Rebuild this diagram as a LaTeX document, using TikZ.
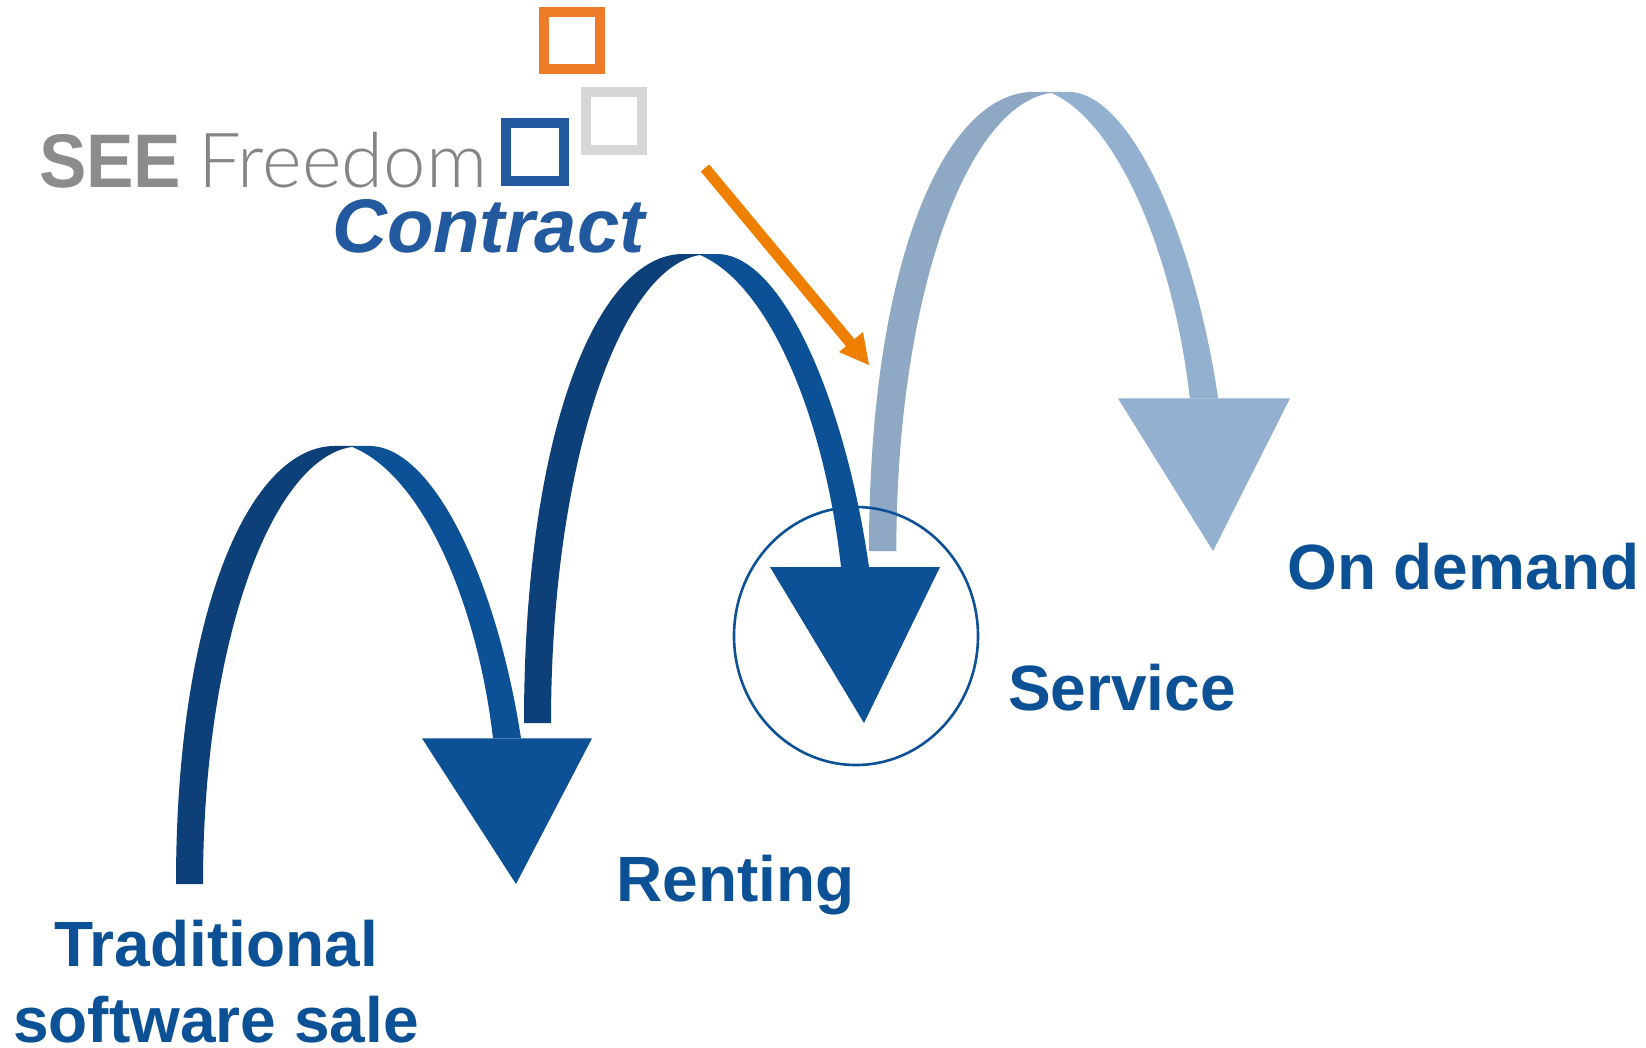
\documentclass[tikz,border=0pt]{standalone}
\usepackage{fontspec}
\usetikzlibrary{shapes.geometric}
\setmainfont{Liberation Sans}
\newfontfamily\lightface{Lato Light}
\definecolor{headblue}{HTML}{0C5195}
\definecolor{shaftdark}{HTML}{0D3F78}
\definecolor{palehead}{HTML}{93B0D1}
\definecolor{paleshaft}{HTML}{8FA8C4}
\definecolor{logoblue}{HTML}{22599F}
\definecolor{logoorange}{HTML}{EE7B27}
\definecolor{logogrey}{HTML}{D6D6D6}
\definecolor{logotext}{HTML}{8C8C8C}
\definecolor{logolight}{HTML}{858585}
\definecolor{pointer}{HTML}{EF7F00}
% foot x, foot y, y-scale, left colour, right colour, x-scale, apex offset
\newcommand{\jumparrow}[7]{%
  \begin{scope}[shift={(#1,#2)},xscale=#6,yscale=#3]
    \fill[#4] (0,0) .. controls (0,-293) and (74,-469) .. ({159+#7},-469)
      -- ({176+#7},-469) -- ({176+#7},-468)
      .. controls (94,-455) and (27,-253) .. (27,0) -- cycle;
    \fill[#5] ({176+#7},-469) -- ({193+#7},-469)
      .. controls (258,-469) and (321,-323) .. (345,-156)
      -- (317,-156) .. controls (301,-303) and (246,-438) .. ({176+#7},-468) -- cycle;
    \fill[#5] (246,-156) -- (416,-156) -- (340,0) -- cycle;
  \end{scope}}
\tikzset{
  x=1pt,y=-1pt,
  lbl/.style={inner sep=0pt,text=headblue,font=\fontsize{64}{73}\selectfont\bfseries},
  logosq/.style={draw=#1,line width=10pt,fill=none,inner sep=0pt},
}
\begin{document}
\begin{tikzpicture}
\useasboundingbox (0,0) rectangle (1646,1047);
\fill[white] (0,0) rectangle (1646,1047);
% pale arrow, then circle, then the dark arrows
\jumparrow{869}{551}{0.979}{paleshaft}{palehead}{1.012}{4}
\node[draw=headblue,line width=2.6pt,ellipse,minimum width=244pt,minimum height=258pt,inner sep=0pt] (ring) at (856,636) {};
\jumparrow{176}{884}{0.934}{shaftdark}{headblue}{1}{0}
\jumparrow{524}{723}{1}{shaftdark}{headblue}{1}{0}
% pointer
\coordinate (ps) at (705,168);
\coordinate (pe) at (853,346);
\coordinate (pt) at (869,365);
\draw[pointer,line width=11pt] (ps) -- (pe);
\fill[pointer] (pt) -- (839,352) -- (863,332) -- cycle;
% logo squares
\node[logosq=logoorange,minimum width=56pt,minimum height=57pt] (sqo) at (572,40.5) {};
\node[logosq=logogrey,minimum width=56pt,minimum height=58pt] (sqg) at (613.5,121) {};
\node[logosq=logoblue,minimum width=58pt,minimum height=58pt] (sqb) at (535,152) {};
% logo text
\node[anchor=base west,inner sep=0pt,text=logotext,font=\fontsize{76}{76}\selectfont\bfseries,xscale=0.935] (see) at (39,187) {SEE};
\node[anchor=base west,inner sep=0pt,text=logolight,font=\fontsize{76}{76}\selectfont\lightface] (free) at (198,187) {Freedom};
\node[anchor=base west,inner sep=0pt,text=logoblue,font=\fontsize{76}{76}\selectfont\itshape\bfseries] (con) at (332,252) {Contract};
% labels
\node[lbl,anchor=base] (trad) at (216,966) {Traditional};
\node[lbl,anchor=base] (soft) at (216,1042) {software sale};
\node[lbl,anchor=base west] (rent) at (616,901) {Renting};
\node[lbl,anchor=base west] (serv) at (1008,710) {Service};
\node[lbl,anchor=base west] (dem) at (1287,589) {On demand};
\end{tikzpicture}
\end{document}
